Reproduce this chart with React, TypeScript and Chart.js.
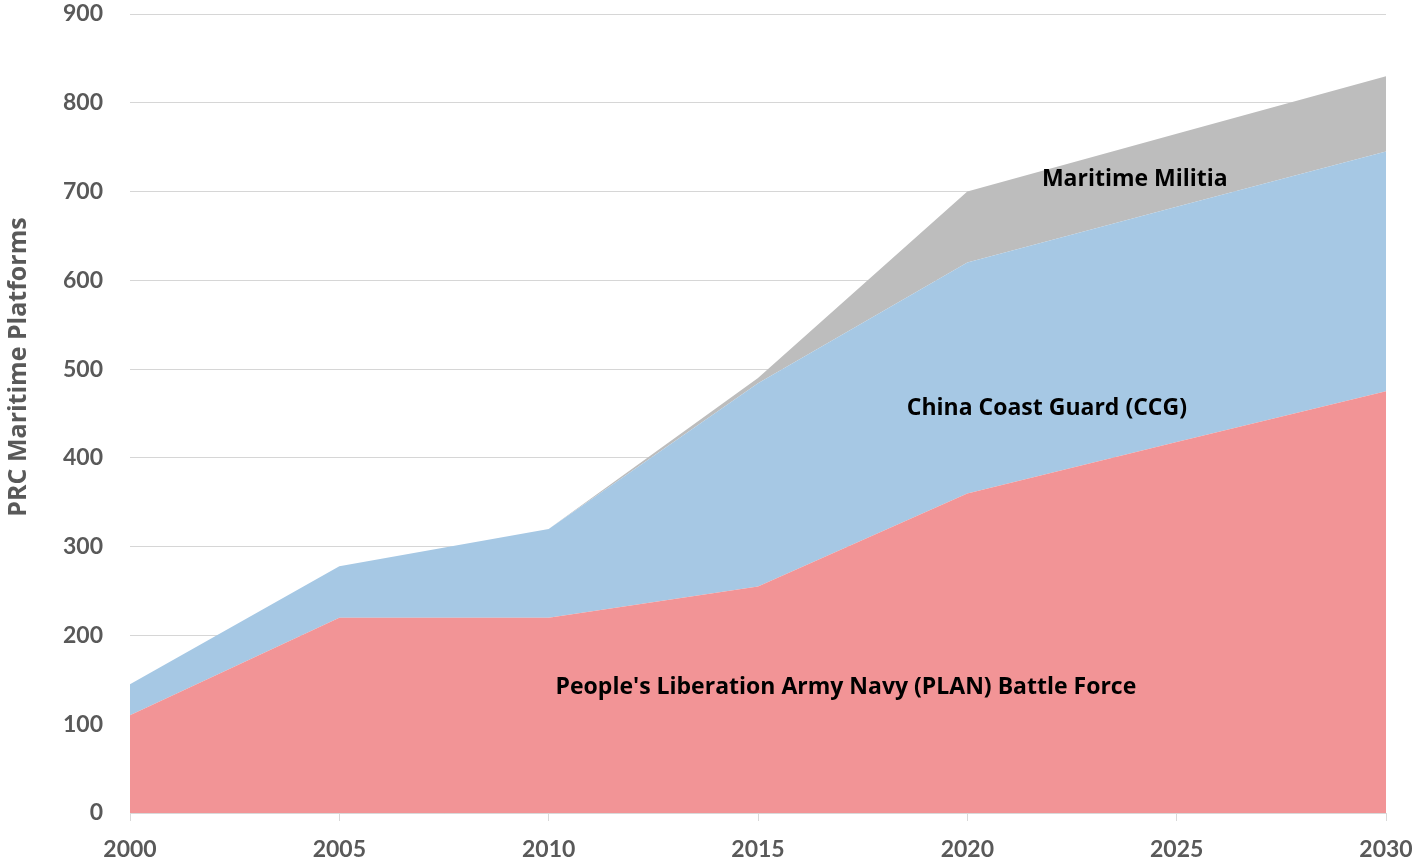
import React, { useEffect, useRef } from "react";
import { Chart, registerables } from "chart.js";

Chart.register(...registerables);

const years = [2000, 2005, 2010, 2015, 2020, 2025, 2030];
const planValues = [110, 220, 220, 255, 360, 418, 475];
const ccgValues = [35, 58, 100, 229, 260, 265, 270];
const militiaValues = [0, 0, 0, 6, 80, 82, 85];
const seriesNames = [
  "People's Liberation Army Navy (PLAN) Battle Force",
  "China Coast Guard (CCG)",
  "Maritime Militia",
];
const yAxisTitle = "PRC Maritime Platforms";
// label anchors in data coordinates (year, value)
const labelYears = [2017.1, 2021.9, 2024.0];
const labelValues = [141, 456, 714];

const TICK_FONT = "Lato, 'Open Sans', sans-serif";
const LABEL_FONT = "'Open Sans', Lato, sans-serif";

export default function App() {
  const ref = useRef<HTMLCanvasElement | null>(null);

  useEffect(() => {
    if (!ref.current) return;
    const toPts = (arr: number[]) => arr.map((v, i) => ({ x: years[i], y: v }));

    const labelPlugin = {
      id: "areaLabels",
      afterDatasetsDraw(chart: any) {
        const { ctx, scales } = chart;
        ctx.save();
        ctx.font = `bold 23px ${LABEL_FONT}`;
        ctx.fillStyle = "#000000";
        ctx.textAlign = "center";
        ctx.textBaseline = "middle";
        seriesNames.forEach((name, i) => {
          ctx.fillText(
            name,
            scales.x.getPixelForValue(labelYears[i]),
            scales.y.getPixelForValue(labelValues[i])
          );
        });
        ctx.restore();
      },
      afterDraw(chart: any) {
        const { ctx, chartArea } = chart;
        ctx.save();
        ctx.translate(19, chartArea.top + 353);
        ctx.rotate(-Math.PI / 2);
        ctx.font = `bold 25px ${LABEL_FONT}`;
        ctx.fillStyle = "#595959";
        ctx.textAlign = "center";
        ctx.textBaseline = "middle";
        ctx.fillText(yAxisTitle, 0, 0);
        ctx.restore();
      },
    };

    const chart = new Chart(ref.current, {
      type: "line",
      data: {
        datasets: [
          {
            label: seriesNames[0],
            data: toPts(planValues),
            backgroundColor: "#F29496",
            borderWidth: 0,
            pointRadius: 0,
            fill: "origin",
          },
          {
            label: seriesNames[1],
            data: toPts(ccgValues),
            backgroundColor: "#A6C8E4",
            borderWidth: 0,
            pointRadius: 0,
            fill: "-1",
          },
          {
            label: seriesNames[2],
            data: toPts(militiaValues),
            backgroundColor: "#BDBDBD",
            borderWidth: 0,
            pointRadius: 0,
            fill: "-1",
          },
        ],
      },
      options: {
        animation: false,
        responsive: false,
        devicePixelRatio: 1,
        layout: { padding: { top: 14, right: 32, left: 0, bottom: 0 } },
        plugins: {
          legend: { display: false },
          tooltip: { enabled: false },
        },
        elements: { line: { tension: 0 } },
        scales: {
          x: {
            type: "linear",
            min: 2000,
            max: 2030,
            ticks: {
              stepSize: 5,
              color: "#595959",
              font: { family: TICK_FONT, size: 23, weight: "bold" },
              padding: 15,
              maxRotation: 0,
              callback: (v: any) => String(v),
            },
            grid: {
              drawOnChartArea: false,
              drawTicks: true,
              tickLength: 8,
              color: "#d9d9d9",
            },
            border: { display: true, color: "#d9d9d9" },
            afterFit: (s: any) => {
              s.height = 49;
              s.paddingLeft = 0;
              s.paddingRight = 0;
            },
          },
          y: {
            stacked: true,
            min: 0,
            max: 900,
            z: 1,
            ticks: {
              stepSize: 100,
              color: "#595959",
              font: { family: TICK_FONT, size: 23, weight: "bold" },
              padding: 27,
            },
            grid: {
              color: "rgba(0,0,0,0.16)",
              drawTicks: false,
            },
            border: { display: false },
            afterFit: (s: any) => {
              s.width = 130;
              s.paddingTop = 0;
              s.paddingBottom = 0;
            },
          },
        },
      },
      plugins: [labelPlugin],
    } as any);

    return () => chart.destroy();
  }, []);

  return (
    <div style={{ position: "fixed", left: 0, top: 0, width: 1418, height: 862, background: "#fff" }}>
      <canvas ref={ref} width={1418} height={862} style={{ width: 1418, height: 862, display: "block" }} />
    </div>
  );
}
